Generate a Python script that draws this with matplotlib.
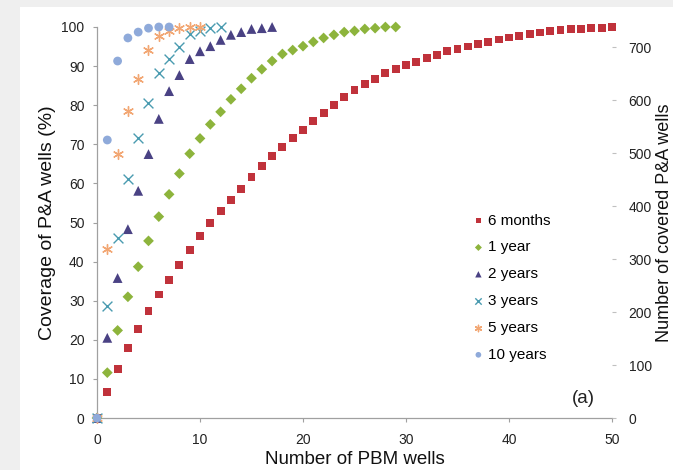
import matplotlib
matplotlib.use("Agg")
import matplotlib.pyplot as plt
import matplotlib.patches as patches

plt.rcParams["font.family"] = ["Liberation Sans", "DejaVu Sans"]

# coverage (%) vs number of PBM wells
months6 = [0, 6.6, 12.5, 17.9, 22.7, 27.4, 31.6, 35.3, 39.1, 43.0, 46.5, 49.9, 52.9,
           55.8, 58.6, 61.6, 64.4, 67.0, 69.3, 71.6, 73.7, 76.0, 78.0, 80.1, 82.1,
           83.9, 85.4, 86.7, 88.2, 89.3, 90.3, 91.1, 92.0, 92.9, 93.8, 94.4, 95.0,
           95.6, 96.2, 96.8, 97.3, 97.8, 98.2, 98.6, 99.0, 99.2, 99.4, 99.5, 99.7,
           99.8, 100]
year1 = [0, 11.6, 22.4, 31.0, 38.7, 45.3, 51.5, 57.2, 62.5, 67.6, 71.5, 75.1, 78.3,
         81.5, 84.2, 86.9, 89.2, 91.3, 93.1, 94.1, 95.1, 96.2, 97.2, 98.0, 98.7,
         99.0, 99.5, 99.7, 100, 100]
years2 = [0, 20.5, 35.8, 48.3, 58.1, 67.5, 76.5, 83.6, 87.7, 91.8, 93.8, 95.1, 96.7,
          98.0, 98.7, 99.5, 99.7, 100]
years3 = [0, 28.7, 46.0, 61.1, 71.6, 80.6, 88.2, 91.8, 94.9, 98.2, 99.0, 99.7, 100]
years5 = [0, 43.2, 67.5, 78.5, 86.7, 94.1, 97.7, 99.0, 99.7, 100, 100]
years10 = [0, 71.1, 91.3, 97.2, 98.7, 99.7, 100, 100]

total_wells = 738  # 100 % on the right axis

labels = ["6 months", "1 year", "2 years", "3 years", "5 years", "10 years"]
series = [months6, year1, years2, years3, years5, years10]
colors = ["#C0323B", "#8DB43C", "#4A4284", "#4A9BB0", "#F2A774", "#8FAADA"]
markers = ["s", "D", "^", "x", (6, 2, 0), "o"]
sizes = [32, 30, 50, 50, 50, 40]

fig = plt.figure(figsize=(6.73, 4.7), dpi=100)
fig.patch.set_facecolor("white")
# grey screenshot border along the top and left edge
fig.patches.append(patches.Rectangle((0, 463 / 470), 1, 7 / 470, transform=fig.transFigure,
                                     facecolor="#efefef", edgecolor="none", zorder=-10))
fig.patches.append(patches.Rectangle((0, 0), 20 / 673, 1, transform=fig.transFigure,
                                     facecolor="#efefef", edgecolor="none", zorder=-10))

ax = fig.add_axes([97 / 673, 52 / 470, 515 / 673, 391 / 470])
ax.set_facecolor("white")

for vals, lab, c, m, s in zip(series, labels, colors, markers, sizes):
    xs = list(range(len(vals)))
    if m in ("x", (6, 2, 0)):
        ax.scatter(xs, vals, s=s, marker=m, color=c, linewidths=1.0,
                   label=lab, clip_on=False, zorder=3)
    else:
        ax.scatter(xs, vals, s=s, marker=m, color=c, edgecolors="none",
                   label=lab, clip_on=False, zorder=3)

ax.set_xlim(0, 50)
ax.set_ylim(0, 100)
ax.set_xticks(range(0, 51, 10))
ax.set_yticks(range(0, 101, 10))

for side in ["top", "right"]:
    ax.spines[side].set_visible(False)
for side in ["left", "bottom"]:
    ax.spines[side].set_color("#a0a0a0")
    ax.spines[side].set_linewidth(0.9)
ax.tick_params(axis="both", colors="#a0a0a0", labelcolor="#222222",
               labelsize=10, length=3, width=0.8)
ax.tick_params(axis="x", pad=8)
ax.tick_params(axis="y", pad=6)

ax.set_xlabel("Number of PBM wells", fontsize=13.5, color="#111111", labelpad=3)
ax.set_ylabel("Coverage of P&A wells (%)", fontsize=14, color="#111111", labelpad=4)

ax2 = ax.twinx()
ax2.set_ylim(0, total_wells)
ax2.set_yticks(range(0, 701, 100))
for side in ["top", "right", "left", "bottom"]:
    ax2.spines[side].set_visible(False)
ax2.tick_params(axis="y", colors="#c0c0c0", labelcolor="#222222",
                labelsize=10, length=3, width=0.8, pad=9)
ax2.set_ylabel("Number of covered P&A wells", fontsize=13, color="#111111",
               labelpad=3)

leg = ax.legend(loc="upper left", bbox_to_anchor=(0.702, 0.55), frameon=False,
                fontsize=11, handletextpad=0.0, labelspacing=0.84,
                markerscale=0.65, handlelength=1.2, borderpad=0.2)

ax.text(48.3, 5, "(a)", fontsize=13.5, color="#222222", ha="right", va="center")

fig.savefig("out.png", dpi=100, facecolor=fig.get_facecolor())
